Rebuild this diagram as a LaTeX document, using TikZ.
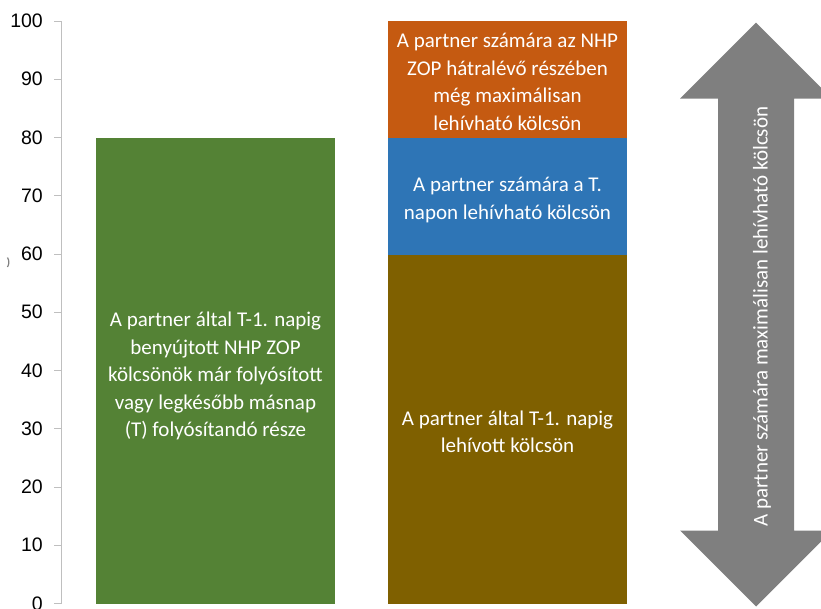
\documentclass[tikz,border=0pt]{standalone}
\usepackage{fontspec}
\setmainfont{Carlito}
\newfontfamily\axisfont{Liberation Sans}
\definecolor{bargreen}{HTML}{548235}
\definecolor{barorange}{HTML}{C55A11}
\definecolor{barblue}{HTML}{2E75B6}
\definecolor{barbrown}{HTML}{7F6000}
\definecolor{arrowgrey}{HTML}{7F7F7F}
\definecolor{axisgrey}{HTML}{BFBFBF}
\begin{document}
\begin{tikzpicture}[x=1pt,y=-1pt,
  barbox/.style={draw=none, inner sep=0pt, outer sep=0pt, minimum width=239pt},
  bartext/.style={text=white, align=center, inner sep=0pt, font=\fontsize{21}{27.5}\selectfont},
  ticklabel/.style={anchor=east, inner sep=0pt, font=\axisfont\fontsize{19.5}{20}\selectfont},
  axisline/.style={draw=axisgrey, line width=1pt}]
\useasboundingbox (0,0) rectangle (821,608);
\clip (0,0) rectangle (821,608);

% axis
\coordinate (axtop) at (61,21);
\coordinate (axbot) at (61,603.5);
\draw[axisline] (axtop) -- (axbot);
\foreach \v in {0,10,...,100}{
  \coordinate (t\v) at (61,{603.5-5.825*\v});
  \coordinate (ts\v) at (54,{603.5-5.825*\v});
  \draw[axisline] (ts\v) -- (t\v);
  \node[ticklabel] (l\v) at (43,{603.5-5.825*\v}) {\v};
}
\draw[gray, line width=1.2pt] (7.5,257.5) to[bend left=30] (7.5,267);

% green bar
\node[barbox, fill=bargreen, minimum height=466pt] (green) at (215.5,371) {};
\node[bartext] (greentext) at (215.5,376) {A partner által T-1. napig\\benyújtott NHP ZOP\\kölcsönök már folyósított\\vagy legkésőbb másnap\\(T) folyósítandó része};

% stacked bar
\node[barbox, fill=barorange, minimum height=116.5pt] (orange) at (507.5,79.25) {};
\node[barbox, fill=barblue, minimum height=117pt] (blue) at (507.5,196) {};
\node[barbox, fill=barbrown, minimum height=349.5pt] (brown) at (507.5,429.25) {};
\node[bartext] (orangetext) at (507.5,82) {A partner számára az NHP\\ZOP hátralévő részében\\még maximálisan\\lehívható kölcsön};
\node[bartext] (bluetext) at (507.5,200) {A partner számára a T.\\napon lehívható kölcsön};
\node[bartext] (browntext) at (507.5,432) {A partner által T-1. napig\\lehívott kölcsön};

% double arrow
\fill[arrowgrey] (756,22.7) -- (832,98.5) -- (794,98.5) -- (794,530.5) -- (832,530.5)
  -- (756,606.5) -- (680,530.5) -- (718,530.5) -- (718,98.5) -- (680,98.5) -- cycle;
\node[bartext, rotate=90] (arrowtext) at (762,316.5) {A partner számára maximálisan lehívható kölcsön};
\end{tikzpicture}
\end{document}
